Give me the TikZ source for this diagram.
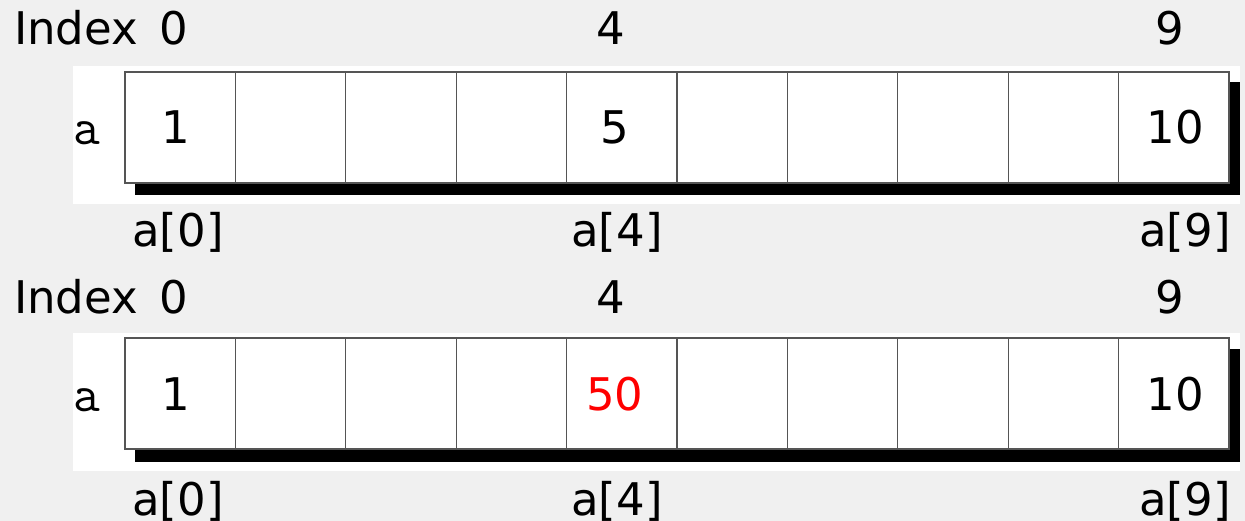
\documentclass[tikz,border=0pt]{standalone}
\usepackage{fontspec}
\setmainfont{DejaVu Sans}
\usepackage{tikz}
\usetikzlibrary{positioning}
\usepackage{xcolor}
\definecolor{pagegray}{HTML}{F0F0F0}
\definecolor{cellline}{HTML}{555555}
\definecolor{hired}{HTML}{FF0000}

\begin{document}
\begin{tikzpicture}[
  x=1pt,y=-1pt,
  font=\fontsize{45}{50}\selectfont,
  band/.style={fill=white,draw=none},
  shade/.style={fill=black,draw=none},
  cell/.style={draw=cellline,line width=1.2pt,fill=white,inner sep=0pt,
               outer sep=0pt,minimum width=110.4pt,minimum height=111pt},
  txt/.style={anchor=base,inner sep=0pt},
  varname/.style={anchor=base,inner sep=0pt,
                  font=\ttfamily\fontsize{52}{56}\selectfont}
]
\fill[pagegray] (0,0) rectangle (1245,521);
\useasboundingbox (0,0) rectangle (1245,521);

% first array
\fill[band] (73,66) rectangle (1240,204);
\fill[shade] (135,82) rectangle (1240,195);
\node[cell,anchor=north west] (c0) at (125,72) {};
\foreach \i [count=\j from 0] in {1,...,9}
  \node[cell,right=0pt of c\j] (c\i) {};
\node[txt] (index) at (76,45) {Index};
\node[txt] (ia0) at (174,45) {0};
\node[txt] (ia4) at (611,45) {4};
\node[txt] (ia9) at (1170,45) {9};
\node[varname] (name) at (87,145) {a};
\node[txt] (v0) at (176,144) {1};
\node[txt] (v4) at (615,144) {5};
\node[txt] (v9) at (1175,144) {10};
\node[txt] (r0) at (178,247) {a[0]};
\node[txt] (r4) at (617,247) {a[4]};
\node[txt] (r9) at (1185,247) {a[9]};

% second array, a[4] changed
\fill[band] (73,333) rectangle (1240,471);
\fill[shade] (135,349) rectangle (1240,462);
\node[cell,anchor=north west] (d0) at (125,338) {};
\foreach \i [count=\j from 0] in {1,...,9}
  \node[cell,right=0pt of d\j] (d\i) {};
\node[txt] (indexb) at (76,313) {Index};
\node[txt] (ib0) at (174,313) {0};
\node[txt] (ib4) at (611,313) {4};
\node[txt] (ib9) at (1170,313) {9};
\node[varname] (nameb) at (87,411) {a};
\node[txt] (w0) at (176,410) {1};
\node[txt,text=hired] (w4) at (615,410) {50};
\node[txt] (w9) at (1175,410) {10};
\node[txt] (s0) at (178,515) {a[0]};
\node[txt] (s4) at (617,515) {a[4]};
\node[txt] (s9) at (1185,515) {a[9]};
\end{tikzpicture}
\end{document}
